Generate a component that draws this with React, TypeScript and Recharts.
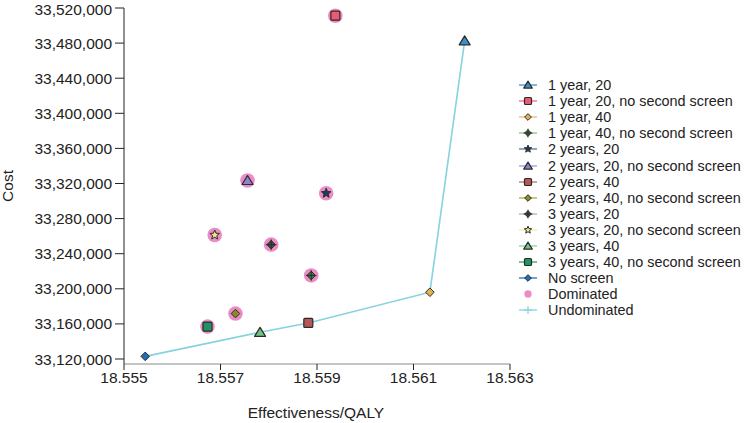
import { ScatterChart, Scatter, XAxis, YAxis, Legend } from "recharts";

// strategies in legend order
const strategies = [
  "1 year, 20",
  "1 year, 20, no second screen",
  "1 year, 40",
  "1 year, 40, no second screen",
  "2 years, 20",
  "2 years, 20, no second screen",
  "2 years, 40",
  "2 years, 40, no second screen",
  "3 years, 20",
  "3 years, 20, no second screen",
  "3 years, 40",
  "3 years, 40, no second screen",
  "No screen",
];
const effectiveness = [
  18.56206, 18.55938, 18.56134, 18.55888, 18.55919, 18.55756, 18.55882, 18.55731, 18.55805,
  18.55688, 18.55782, 18.55673, 18.55544,
];
const costs = [
  33482600, 33511200, 33196100, 33215200, 33308900, 33323400, 33161100, 33171800, 33250300,
  33261300, 33150400, 33156900, 33123000,
];
const dominatedStrategies = [
  "1 year, 20, no second screen",
  "1 year, 40, no second screen",
  "2 years, 20",
  "2 years, 20, no second screen",
  "2 years, 40, no second screen",
  "3 years, 20",
  "3 years, 20, no second screen",
  "3 years, 40, no second screen",
];
const undominatedPath = ["No screen", "3 years, 40", "2 years, 40", "1 year, 40", "1 year, 20"];
const xTicks = [18.555, 18.557, 18.559, 18.561, 18.563];
const yTicks = [
  33120000, 33160000, 33200000, 33240000, 33280000, 33320000, 33360000, 33400000, 33440000,
  33480000, 33520000,
];

type Shape = "triangle" | "square" | "diamond" | "diamondCross" | "star" | "circle" | "plus";

const markers: { shape: Shape; fill: string; line: string }[] = [
  { shape: "triangle", fill: "#3b8fcb", line: "#4a8fc0" },
  { shape: "square", fill: "#ec5a6e", line: "#e0707e" },
  { shape: "diamond", fill: "#e4b24a", line: "#d8c070" },
  { shape: "diamondCross", fill: "#3f7d3a", line: "#8cc08c" },
  { shape: "star", fill: "#1f3c5a", line: "#607890" },
  { shape: "triangle", fill: "#8c84cc", line: "#a09cd0" },
  { shape: "square", fill: "#b75656", line: "#b87070" },
  { shape: "diamond", fill: "#8c8a22", line: "#a8a850" },
  { shape: "diamondCross", fill: "#4a4a4a", line: "#b0b0b0" },
  { shape: "star", fill: "#f2e488", line: "#f0ecb0" },
  { shape: "triangle", fill: "#72c486", line: "#98cca0" },
  { shape: "square", fill: "#1f9460", line: "#409a70" },
  { shape: "diamond", fill: "#1c6fc0", line: "#2f6fa8" },
];
const DOMINATED = "#ea8cc6";
const UNDOMINATED = "#86d2de";
const FONT = "'Liberation Sans', Arial, sans-serif";

const points = strategies.map((name, i) => ({ name, x: effectiveness[i], y: costs[i] }));
const dominatedPoints = points.filter((p) => dominatedStrategies.includes(p.name));
const frontierPoints = undominatedPath.map((n) => points.find((p) => p.name === n)!);

function Marker({ cx, cy, shape, fill, s = 1 }: { cx: number; cy: number; shape: Shape; fill: string; s?: number }) {
  const stroke = "#2b2b2b";
  if (shape === "triangle") {
    const h = 5 * s;
    return (
      <polygon
        points={`${cx},${cy - h} ${cx + h * 1.1},${cy + h * 0.8} ${cx - h * 1.1},${cy + h * 0.8}`}
        fill={fill}
        stroke={stroke}
        strokeWidth={1.2}
        strokeLinejoin="round"
      />
    );
  }
  if (shape === "square") {
    const h = 4.5 * s;
    return <rect x={cx - h} y={cy - h} width={h * 2} height={h * 2} rx={1} fill={fill} stroke={stroke} strokeWidth={1.2} />;
  }
  if (shape === "diamond" || shape === "diamondCross") {
    const h = 4.3 * s;
    return (
      <g>
        <polygon
          points={`${cx},${cy - h} ${cx + h},${cy} ${cx},${cy + h} ${cx - h},${cy}`}
          fill={fill}
          stroke={stroke}
          strokeWidth={1}
        />
        {shape === "diamondCross" && (
          <path
            d={`M${cx - h - 1},${cy}H${cx + h + 1}M${cx},${cy - h - 1}V${cy + h + 1}`}
            stroke={stroke}
            strokeWidth={1}
          />
        )}
      </g>
    );
  }
  if (shape === "star") {
    const outer = 5 * s;
    const inner = 2.2 * s;
    const pts: string[] = [];
    for (let k = 0; k < 10; k++) {
      const r = k % 2 === 0 ? outer : inner;
      const a = -Math.PI / 2 + (k * Math.PI) / 5;
      pts.push(`${cx + r * Math.cos(a)},${cy + r * Math.sin(a)}`);
    }
    return <polygon points={pts.join(" ")} fill={fill} stroke={stroke} strokeWidth={1} strokeLinejoin="round" />;
  }
  if (shape === "circle") {
    return <circle cx={cx} cy={cy} r={7.3 * s} fill={fill} />;
  }
  return (
    <path d={`M${cx - 4},${cy}H${cx + 4}M${cx},${cy - 4}V${cy + 4}`} stroke={fill} strokeWidth={1.2} />
  );
}

const legendRows = [
  ...strategies.map((name, i) => ({ name, shape: markers[i].shape, fill: markers[i].fill, line: markers[i].line })),
  { name: "Dominated", shape: "circle" as Shape, fill: DOMINATED, line: "none" },
  { name: "Undominated", shape: "plus" as Shape, fill: UNDOMINATED, line: UNDOMINATED },
];

function LegendContent() {
  return (
    <div style={{ fontFamily: FONT, fontSize: 14.4, color: "#222" }}>
      {legendRows.map((r) => (
        <div key={r.name} style={{ display: "flex", alignItems: "center", height: 16.1, whiteSpace: "nowrap" }}>
          <svg width={22} height={16} style={{ flex: "none" }}>
            {r.line !== "none" && <line x1={1} x2={19} y1={8} y2={8} stroke={r.line} strokeWidth={1.3} />}
            <Marker cx={10} cy={8} shape={r.shape} fill={r.fill} s={r.shape === "circle" ? 0.5 : 0.78} />
          </svg>
          <span style={{ marginLeft: 8 }}>{r.name}</span>
        </div>
      ))}
    </div>
  );
}

export default function App() {
  const tickStyle = { fontSize: 15.5, fill: "#222", fontFamily: FONT };
  return (
    <div style={{ position: "absolute", left: 0, top: 0, width: 744, height: 423, background: "#fff" }}>
      <ScatterChart width={744} height={423} margin={{ top: 8, right: 234, bottom: 0, left: 0 }}>
        <XAxis
          type="number"
          dataKey="x"
          domain={[18.555, 18.563]}
          ticks={xTicks}
          tickFormatter={(v: number) => v.toFixed(3)}
          tick={tickStyle}
          tickSize={6}
          tickMargin={2}
          height={59}
          stroke="#8a8a8a"
          tickLine={{ stroke: "#222" }}
          label={() => (
            <text x={316} y={418} textAnchor="middle" fontSize={15.5} fill="#222" fontFamily={FONT}>
              Effectiveness/QALY
            </text>
          )}
        />
        <YAxis
          type="number"
          dataKey="y"
          domain={[33114300, 33520000]}
          ticks={yTicks}
          tickFormatter={(v: number) => v.toLocaleString("en-US")}
          tick={tickStyle}
          tickSize={9}
          tickMargin={3}
          width={124}
          stroke="#222"
          label={() => (
            <text
              x={13}
              y={186}
              transform="rotate(-90 13 186)"
              textAnchor="middle"
              fontSize={15.5}
              fill="#222"
              fontFamily={FONT}
            >
              Cost
            </text>
          )}
        />
        <Legend
          layout="vertical"
          align="center"
          verticalAlign="middle"
          wrapperStyle={{ left: 518, top: 77, width: 226 }}
          content={<LegendContent />}
        />
        <Scatter
          name="Undominated"
          data={frontierPoints}
          line={{ stroke: UNDOMINATED, strokeWidth: 1.6 }}
          shape={() => <g />}
          isAnimationActive={false}
        />
        <Scatter
          name="Dominated"
          data={dominatedPoints}
          shape={(p: any) => <Marker cx={p.cx} cy={p.cy} shape="circle" fill={DOMINATED} />}
          isAnimationActive={false}
        />
        {points.map((pt, i) => (
          <Scatter
            key={pt.name}
            name={pt.name}
            data={[pt]}
            shape={(p: any) => <Marker cx={p.cx} cy={p.cy} shape={markers[i].shape} fill={markers[i].fill} />}
            isAnimationActive={false}
          />
        ))}
      </ScatterChart>
    </div>
  );
}
